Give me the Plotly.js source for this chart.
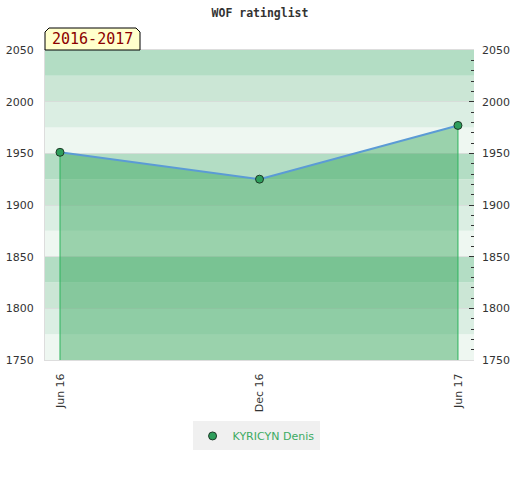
<!DOCTYPE html>
<html>
<head>
<meta charset="utf-8">
<script src="https://cdn.plot.ly/plotly-3.0.1.min.js"></script>
<style>html,body{margin:0;padding:0;background:#fff;}#chart{width:520px;height:480px;}</style>
</head>
<body>
<div id="chart"></div>
<script>
// ---- data ----
const dates = ["2016-06-01", "2016-12-01", "2017-06-01"];
const ratings = [1951, 1925, 1977];
const tickLabels = ["Jun 16", "Dec 16", "Jun 17"];
const playerName = "KYRICYN Denis";
const seasonLabel = "2016-2017";
const chartTitle = "WOF ratinglist";
const yRange = [1750, 2050];
const xRange = ["2016-05-18 06:00", "2017-06-15 17:00"];
const bandStep = 25;
const bandColors = ["#eef7f1", "#dbeee3", "#cbe6d5", "#b3ddc4"];

// background bands
const shapes = [];
let i = 0;
for (let v = yRange[0]; v < yRange[1]; v += bandStep, i++) {
  shapes.push({
    type: "rect", xref: "paper", yref: "y", x0: 0, x1: 1, y0: v, y1: v + bandStep,
    fillcolor: bandColors[i % bandColors.length], line: {width: 0}, layer: "below"
  });
}
// season label box (chamfered)
const bw = 95 / 429, bh = 22 / 310, cx = 4 / 429, cy = 4 / 310;
shapes.push({
  type: "path", xref: "paper", yref: "paper",
  path: `M 0 1 L 0 ${1 + bh - cy} L ${cx} ${1 + bh} L ${bw - cx} ${1 + bh} L ${bw} ${1 + bh - cy} L ${bw} 1 Z`,
  fillcolor: "#ffffcc", line: {color: "#000", width: 1}, layer: "above"
});

const last = dates.length - 1;
const traces = [
  { // fill below line
    x: dates, y: ratings, type: "scatter", mode: "none", fill: "tozeroy",
    fillcolor: "rgba(51,164,88,0.45)", showlegend: false, hoverinfo: "skip"
  },
  { // vertical edge lines
    x: [dates[0], dates[0], null, dates[last], dates[last]],
    y: [ratings[0], yRange[0], null, ratings[last], yRange[0]],
    type: "scatter", mode: "lines", line: {color: "#2db35d", width: 1},
    showlegend: false, hoverinfo: "skip"
  },
  { // rating line
    x: dates, y: ratings, type: "scatter", mode: "lines",
    line: {color: "#5b9bd5", width: 2}, showlegend: false, hoverinfo: "skip"
  },
  { // markers + legend
    x: dates, y: ratings, type: "scatter", mode: "markers", name: playerName,
    marker: {size: 8, color: "#2e9e5b", line: {color: "#1e3a28", width: 1}}
  },
  { // invisible trace for right axis
    x: dates, y: ratings, yaxis: "y2", type: "scatter", mode: "markers",
    marker: {opacity: 0}, showlegend: false, hoverinfo: "skip"
  }
];

const tickFont = {family: "DejaVu Sans, sans-serif", size: 11, color: "#333"};
const layout = {
  width: 520, height: 480,
  margin: {l: 45, r: 46, t: 50, b: 120},
  paper_bgcolor: "#fff", plot_bgcolor: "#fff",
  title: {text: "<b>" + chartTitle + "</b>", x: 0.5, xanchor: "center", y: 0.973, yanchor: "middle",
    font: {family: "DejaVu Sans Mono, monospace", size: 11.5, color: "#333"}},
  xaxis: {
    type: "date", range: xRange, tickvals: dates, ticktext: tickLabels, tickangle: -90,
    ticks: "", showgrid: false, zeroline: false, showline: true, linecolor: "#dddddd", linewidth: 1,
    mirror: true, tickfont: tickFont, fixedrange: true, ticklabelstandoff: 8
  },
  yaxis: {
    range: yRange, dtick: 50, ticks: "", showgrid: true, gridcolor: "rgba(215,215,215,0.7)", gridwidth: 1,
    zeroline: false, showline: true, linecolor: "#dddddd", linewidth: 1, tickfont: tickFont, fixedrange: true,
    ticklabelstandoff: 8
  },
  yaxis2: {
    range: yRange, overlaying: "y", side: "right", dtick: 50, ticks: "inside", ticklen: 5,
    tickcolor: "#333", tickwidth: 1, showgrid: false, zeroline: false, showline: false,
    minor: {ticks: "inside", dtick: 10, ticklen: 3, tickcolor: "#333", showgrid: false},
    tickfont: tickFont, fixedrange: true, ticklabelstandoff: 7
  },
  shapes: shapes,
  annotations: [{
    xref: "paper", yref: "paper", x: bw / 2, y: 1 + bh / 2, xanchor: "center", yanchor: "middle",
    text: seasonLabel, showarrow: false,
    font: {family: "DejaVu Sans Mono, monospace", size: 15, color: "#8b0000"}
  }],
  showlegend: true,
  legend: {
    x: 0.492, xanchor: "center", y: -0.245, yanchor: "middle", orientation: "h",
    bgcolor: "#f0f0f0", font: {family: "DejaVu Sans, sans-serif", size: 11, color: "#3cab62"}
  }
};

Plotly.newPlot("chart", traces, layout, {displayModeBar: false, staticPlot: true});
</script>
</body>
</html>
